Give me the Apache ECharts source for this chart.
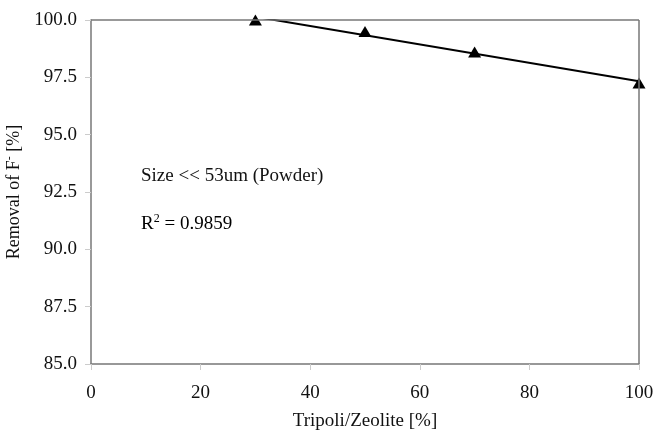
<!DOCTYPE html>
<html><head><meta charset="utf-8">
<script src="https://cdn.jsdelivr.net/npm/echarts@6/dist/echarts.min.js"></script>
<style>html,body{margin:0;padding:0;background:#fff}#c{width:653px;height:434px}</style>
</head><body><div id="c"></div>
<script>
var ratioX = [30, 50, 70, 100];
var removal = [100.0, 99.5, 98.6, 97.25];
var trendX = [30, 100];
var trendY = [100.14, 97.33];
var yTicks = [85.0, 87.5, 90.0, 92.5, 95.0, 97.5, 100.0];
var xTicks = [0, 20, 40, 60, 80, 100];

var FONT = 'Liberation Serif';
var FS = 19;
var chart = echarts.init(document.getElementById('c'), null, {renderer: 'canvas'});
chart.setOption({
  backgroundColor: '#fff',
  animation: false,
  grid: {left: 91, top: 20, right: 14, bottom: 70, containLabel: false, outerBoundsMode: 'none'},
  xAxis: {
    type: 'value', min: xTicks[0], max: xTicks[xTicks.length - 1], interval: 20,
    name: 'Tripoli/Zeolite [%]', nameLocation: 'middle', nameGap: 48,
    nameTextStyle: {fontFamily: FONT, fontSize: FS, color: '#111'},
    axisLine: {show: true, lineStyle: {color: '#777', width: 1.5}},
    axisTick: {show: true, length: 6, lineStyle: {color: '#ccc'}},
    axisLabel: {fontFamily: FONT, fontSize: FS, color: '#111', margin: 20},
    splitLine: {show: false}
  },
  yAxis: {
    type: 'value', min: yTicks[0], max: yTicks[yTicks.length - 1], interval: 2.5,
    name: '{a|Removal of F}{s|-}{a| [%]}', nameLocation: 'middle', nameGap: 59,
    nameTextStyle: {rich: {
      a: {fontFamily: FONT, fontSize: 18, color: '#111'},
      s: {fontFamily: FONT, fontSize: 12, color: '#111', verticalAlign: 'top', padding: [0, 0, 10, 0]}
    }},
    axisLine: {show: true, lineStyle: {color: '#777', width: 1.5}},
    axisTick: {show: true, length: 6, lineStyle: {color: '#ccc'}},
    axisLabel: {fontFamily: FONT, fontSize: FS, color: '#111', margin: 14,
      formatter: function (v) { return v.toFixed(1); }},
    splitLine: {show: false}
  },
  graphic: [
    {type: 'line', shape: {x1: 91, y1: 20, x2: 639, y2: 20}, style: {stroke: '#777', lineWidth: 1.5}, z: 5},
    {type: 'line', shape: {x1: 639, y1: 20, x2: 639, y2: 364}, style: {stroke: '#777', lineWidth: 1.5}, z: 5},
    {type: 'text', left: 141, top: 167, style: {text: 'Size << 53um (Powder)', font: FS + 'px "Liberation Serif"', fill: '#111'}},
    {type: 'text', left: 141, top: 213, style: {
      text: '{a|R}{s|2}{a| = 0.9859}',
      rich: {
        a: {fontFamily: FONT, fontSize: FS, color: '#111'},
        s: {fontFamily: FONT, fontSize: 12, color: '#111', verticalAlign: 'top', padding: [0, 0, 10, 0]}
      }}}
  ],
  series: [
    {type: 'line', data: trendX.map(function (x, i) { return [x, trendY[i]]; }),
     symbol: 'none', clip: true, lineStyle: {color: '#000', width: 2}, z: 3},
    {type: 'scatter', data: ratioX.map(function (x, i) { return [x, removal[i]]; }),
     symbol: 'triangle', symbolSize: [13, 11], itemStyle: {color: '#000', opacity: 1}, clip: false, z: 4}
  ]
});
</script></body></html>
